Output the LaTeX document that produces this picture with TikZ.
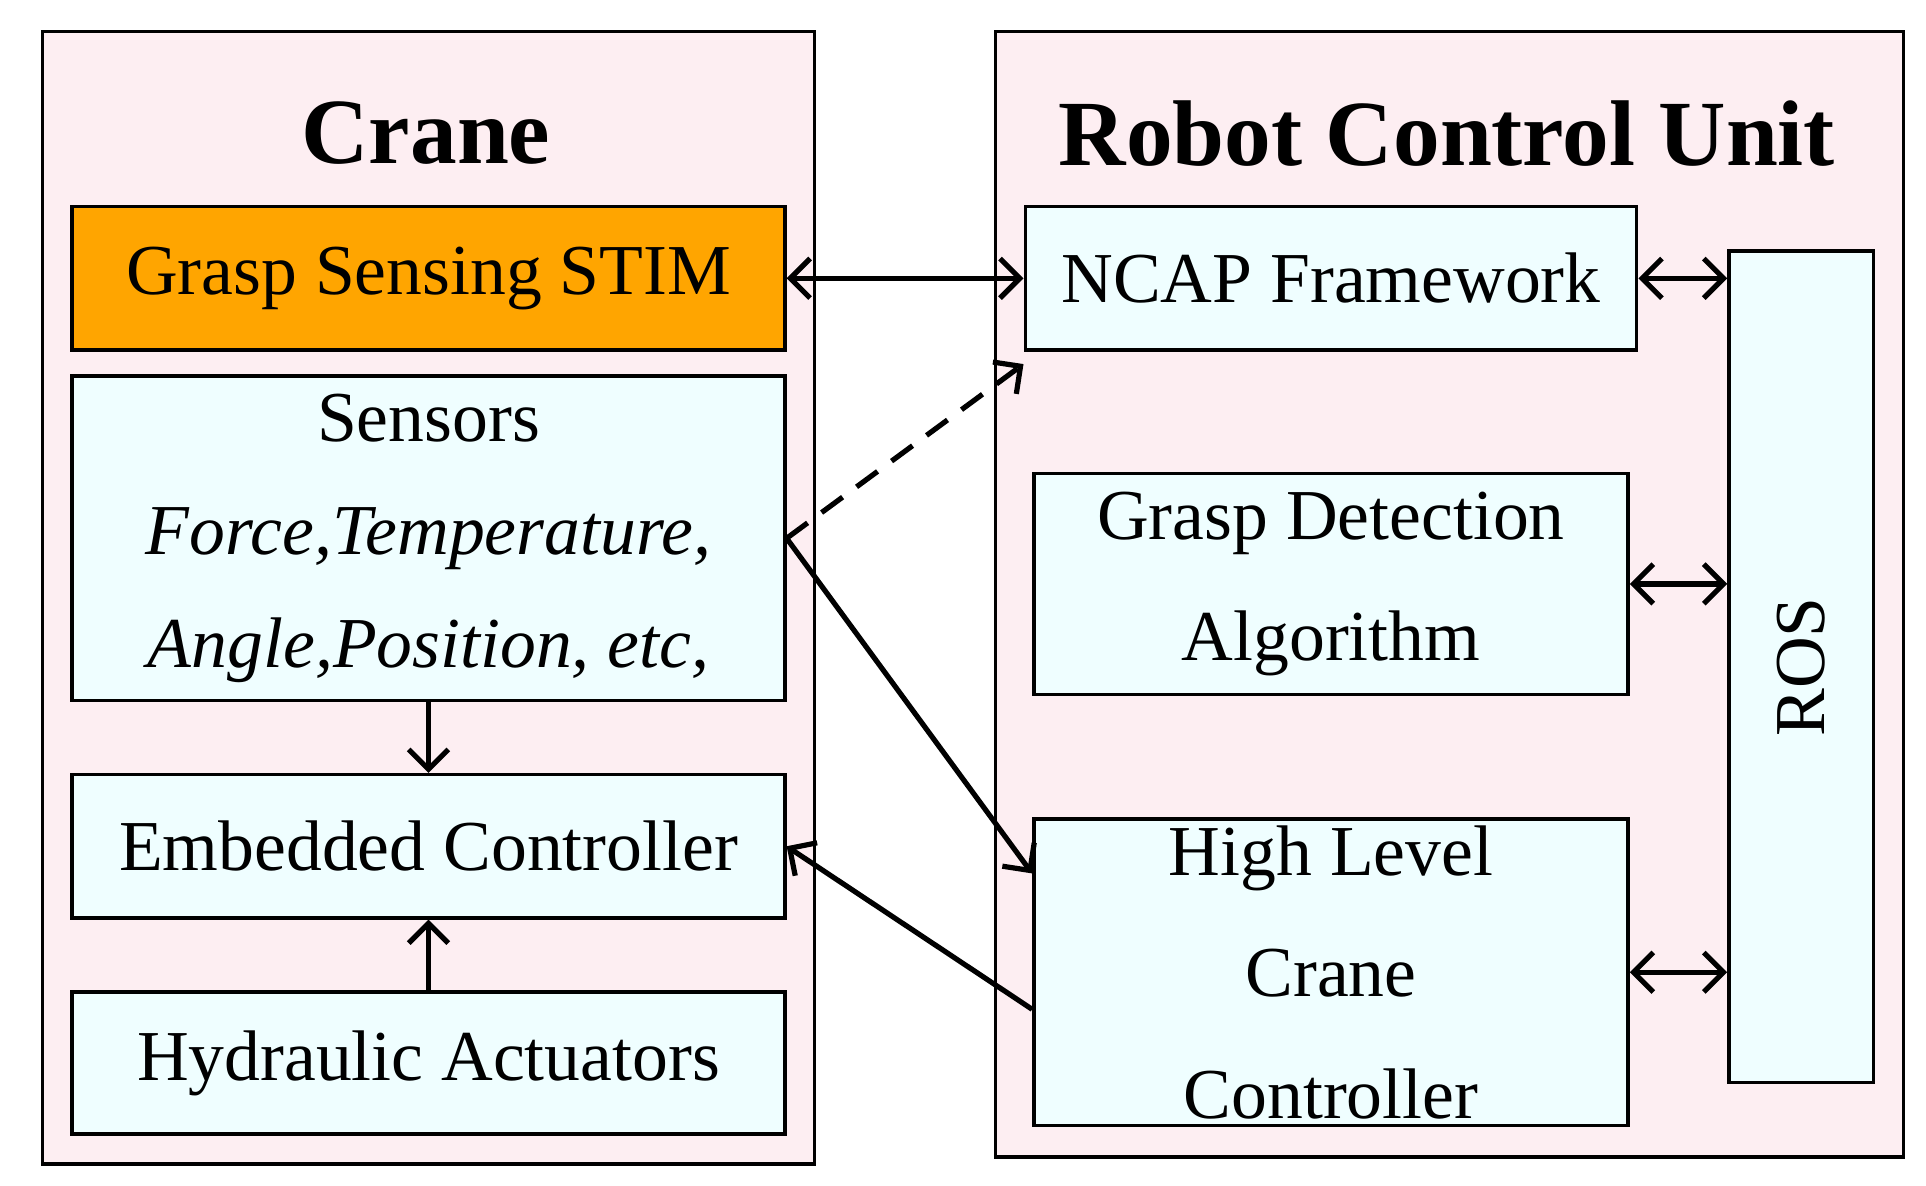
\documentclass[tikz,border=0pt]{standalone}
\usepackage{fontspec}
\setmainfont{Liberation Serif}
\usetikzlibrary{arrows.meta, positioning}
\definecolor{panelpink}{RGB}{253,238,242}
\definecolor{boxcyan}{RGB}{239,254,255}
\definecolor{stimorange}{RGB}{255,165,0}

\begin{document}
\begin{tikzpicture}[
    x=0.01cm, y=-0.01cm,
    every node/.style={font=\fontsize{16.5}{20}\selectfont},
    panel/.style={draw, thick, fill=panelpink, anchor=north west},
    box/.style={draw, thick, fill=boxcyan, align=center, anchor=north west, inner sep=0pt},
    title/.style={font=\fontsize{21.5}{26}\selectfont\bfseries},
    arrow/.style={-{Straight Barb[length=1.6mm]}, very thick},
    darrow/.style={{Straight Barb[length=1.6mm]}-{Straight Barb[length=1.6mm]}, very thick}
]
\useasboundingbox (0,0) rectangle (1560,960);

% --- Crane ---
\node[panel, minimum width=6.25cm, minimum height=9.17cm] (crane) at (33,24) {};
\node[title] at (345,108) {Crane};
\node[box, fill=stimorange, minimum width=5.77cm, minimum height=1.16cm] (stim) at (57,166) {Grasp Sensing STIM};
\node[box, minimum width=5.77cm, minimum height=2.63cm] (sensors) at (57,303) {Sensors\\[6pt] \textit{Force,Temperature,}\\[6pt] \textit{Angle,Position, etc,}};
\node[box, minimum width=5.77cm, minimum height=1.16cm] (embedded) at (57,626) {Embedded Controller};
\node[box, minimum width=5.77cm, minimum height=1.15cm] (hydraulic) at (57,802) {Hydraulic Actuators};

% --- Robot Control Unit ---
\node[panel, minimum width=7.35cm, minimum height=9.11cm] (rcu) at (805,24) {};
\node[title] at (1172,108) {Robot Control Unit};
\node[box, minimum width=4.95cm, minimum height=1.16cm] (ncap) at (829,166) {NCAP Framework};
\node[box, minimum width=4.81cm, minimum height=1.79cm] (detect) at (836,382) {Grasp Detection\\[8pt] Algorithm};
\node[box, minimum width=4.81cm, minimum height=2.48cm] (highlevel) at (836,662) {High Level\\[8pt] Crane\\[8pt] Controller};
\node[box, minimum width=1.17cm, minimum height=6.73cm] (ros) at (1399,202) {};
\node[rotate=90] at (ros.center) {ROS};

% --- connectors ---
\draw[darrow] (stim.east) -- (ncap.west |- stim.east);
\draw[darrow] (ncap.east) -- (ros.west |- ncap.east);
\draw[darrow] (detect.east) -- (ros.west |- detect.east);
\draw[darrow] (highlevel.east) -- (ros.west |- highlevel.east);
\draw[arrow] (sensors.south) -- (embedded.north);
\draw[arrow] (hydraulic.north) -- (embedded.south);
\draw[arrow, dash pattern=on 6pt off 4pt] (sensors.east) -- ([yshift=-0.1cm]ncap.south west);
\draw[arrow] (sensors.east) -- ([yshift=0.8cm]highlevel.west);
\draw[arrow] ([yshift=-0.3cm]highlevel.west) -- (embedded.east);
\end{tikzpicture}
\end{document}
